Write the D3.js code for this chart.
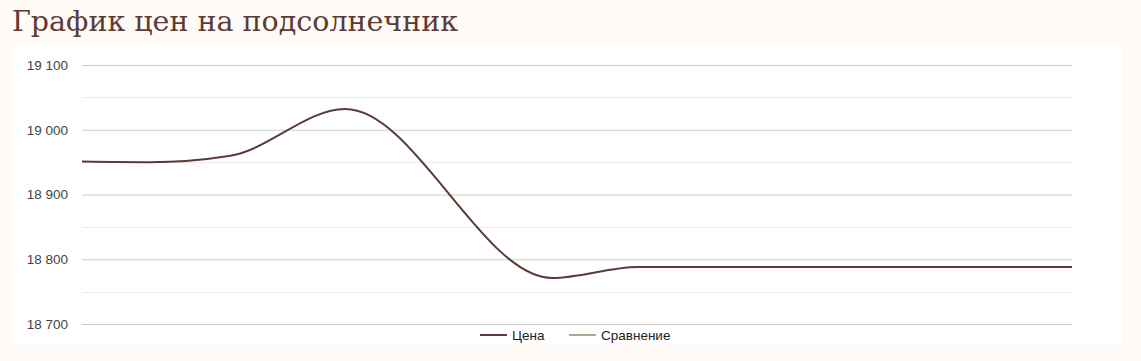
<!DOCTYPE html>
<html>
<head>
<meta charset="utf-8">
<script src="https://cdn.jsdelivr.net/npm/d3@7"></script>
<style>
  body { margin: 0; background: #fffaf6; }
  svg { display: block; }
</style>
</head>
<body>
<script>
var title = "График цен на подсолнечник";
var seriesNames = ["Цена", "Сравнение"];
var seriesColors = ["#5b3b35", "#a9ab94"];
// day offsets of price points and prices
var days = [0, 3, 6.6, 11.7, 20.9, 24.7, 44];
var prices = [18951, 18950, 18960, 19032, 18771, 18788, 18788];
var yTicks = [18700, 18800, 18900, 19000, 19100];
var yMinor = [18750, 18850, 18950, 19050];

var W = 1141, H = 361;
var margin = {top: 65, right: 69, bottom: 37, left: 82},
  width = W - margin.left - margin.right,
  height = H - margin.top - margin.bottom;

var svg = d3.select("body").append("svg")
  .attr("width", W)
  .attr("height", H);

svg.append("text")
  .attr("x", 12)
  .attr("y", 31)
  .style("font-family", "'DejaVu Serif', serif")
  .style("font-size", "28.5px")
  .style("fill", "#5b3b35")
  .text(title);

svg.append("rect")
  .attr("x", 12).attr("y", 46)
  .attr("width", 1110).attr("height", 299)
  .style("fill", "#ffffff");

var g = svg.append("g")
  .attr("transform", "translate(" + margin.left + "," + margin.top + ")");

var x = d3.scaleLinear().domain([0, 44]).range([0, width]);
var y = d3.scaleLinear().domain([18700, 19100]).range([height, 0]);

g.selectAll(".minor")
  .data(yMinor)
  .enter().append("line")
  .attr("x1", 0).attr("x2", width)
  .attr("y1", function (d) { return Math.round(y(d)) + 0.5; })
  .attr("y2", function (d) { return Math.round(y(d)) + 0.5; })
  .style("stroke", "#ebebeb");

var yAxis = d3.axisLeft(y)
  .tickValues(yTicks)
  .tickSize(-width)
  .tickPadding(14)
  .tickFormat(function (d) { return d3.format(",")(d).replace(",", " "); });

var ya = g.append("g").call(yAxis);
ya.select(".domain").remove();
ya.selectAll(".tick line").style("stroke", "#cccccc");
ya.selectAll(".tick text")
  .style("font-family", "Arial, 'Liberation Sans', sans-serif")
  .style("font-size", "13.5px")
  .style("fill", "#444444");

var line = d3.line()
  .x(function (d, i) { return x(days[i]); })
  .y(function (d) { return y(d); })
  .curve(d3.curveMonotoneX);

g.append("path")
  .datum(prices)
  .attr("d", line)
  .style("fill", "none")
  .style("stroke", seriesColors[0])
  .style("stroke-width", 2);

var legendX = [480, 569];
var legend = svg.selectAll(".legend")
  .data(seriesNames)
  .enter().append("g")
  .attr("transform", function (d, i) { return "translate(" + legendX[i] + ",335)"; });

legend.append("line")
  .attr("x1", 0).attr("x2", 27)
  .style("stroke", function (d, i) { return seriesColors[i]; })
  .style("stroke-width", 2);

legend.append("text")
  .attr("x", 32)
  .attr("y", 5)
  .style("font-family", "Arial, 'Liberation Sans', sans-serif")
  .style("font-size", "13.5px")
  .style("fill", "#222222")
  .text(function (d) { return d; });
</script>
</body>
</html>
